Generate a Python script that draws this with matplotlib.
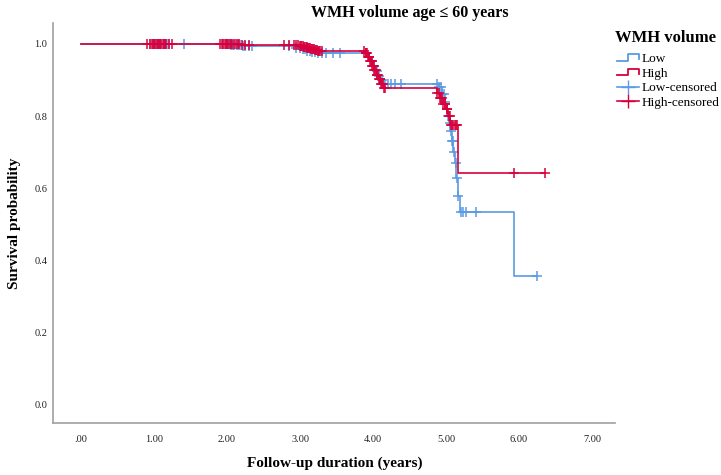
"""Kaplan-Meier curves: WMH volume, age <= 60 years."""
import matplotlib
matplotlib.use('Agg')
import matplotlib.pyplot as plt
import numpy as np
from matplotlib.lines import Line2D
from matplotlib.legend_handler import HandlerBase

plt.rcParams['font.family'] = ['Liberation Serif', 'DejaVu Serif']

LOW_COLOR = '#5A9BE3'
HIGH_COLOR = '#D8003C'

# Step curves: event time (years) and survival after the step
low_times = [0.0, 2.05, 2.20, 2.95, 3.02, 3.08, 3.15, 3.22, 3.92, 3.96, 4.00, 4.03,
             4.06, 4.10, 4.15, 4.90, 4.95, 4.98, 5.00, 5.02, 5.04, 5.06, 5.08, 5.10,
             5.12, 5.14, 5.16, 5.19, 5.93]
low_surv = [1.0, 0.996, 0.993, 0.990, 0.985, 0.981, 0.977, 0.974, 0.965, 0.952, 0.938, 0.925,
            0.912, 0.900, 0.889, 0.880, 0.860, 0.840, 0.820, 0.800, 0.780, 0.760, 0.730, 0.700,
            0.670, 0.630, 0.580, 0.535, 0.357]
low_end = 6.25
low_censored = [0.95, 1.00, 1.03, 1.05, 1.08, 1.10, 1.13, 1.15, 1.18, 1.20, 1.41,
                1.95, 2.00, 2.03, 2.05, 2.08, 2.10, 2.13, 2.15, 2.18, 2.22, 2.25, 2.30, 2.34,
                2.85, 2.95, 3.00, 3.04, 3.07, 3.10, 3.13, 3.17, 3.20, 3.25, 3.30, 3.35, 3.45,
                3.55, 3.90, 3.95, 3.98, 4.01, 4.05, 4.08, 4.12, 4.16, 4.20, 4.25, 4.30, 4.38,
                4.88, 4.90, 4.93, 4.95, 4.97, 4.99, 5.01, 5.03, 5.05, 5.07, 5.08, 5.09, 5.11,
                5.13, 5.15, 5.17, 5.20, 5.23, 5.28, 5.41, 6.25]

high_times = [0.0, 2.20, 3.00, 3.05, 3.10, 3.15, 3.20, 3.25, 3.90, 3.93, 3.96, 3.99, 4.02,
              4.05, 4.08, 4.11, 4.14, 4.88, 4.92, 4.96, 5.00, 5.03, 5.06, 5.16]
high_surv = [1.0, 0.998, 0.995, 0.992, 0.989, 0.986, 0.983, 0.980, 0.975, 0.965, 0.952, 0.940,
             0.928, 0.915, 0.902, 0.890, 0.878, 0.865, 0.850, 0.835, 0.820, 0.800, 0.776, 0.643]
high_end = 6.36
high_censored = [0.90, 0.95, 0.97, 0.98, 1.00, 1.02, 1.04, 1.05, 1.07, 1.08, 1.10, 1.12, 1.14,
                 1.15, 1.17, 1.20, 1.25, 1.90, 1.93, 1.95, 1.97, 1.98, 2.00, 2.02, 2.04, 2.05,
                 2.07, 2.10, 2.12, 2.15, 2.17, 2.20, 2.25, 2.30, 2.78, 2.85, 2.92, 2.95, 2.97,
                 3.00, 3.01, 3.02, 3.04, 3.05, 3.06, 3.08, 3.09, 3.10, 3.11, 3.12, 3.14, 3.15,
                 3.16, 3.18, 3.19, 3.20, 3.22, 3.23, 3.25, 3.26, 3.28, 3.30, 3.88, 3.90, 3.91,
                 3.92, 3.93, 3.94, 3.95, 3.96, 3.97, 3.98, 3.99, 4.00, 4.01, 4.02, 4.03, 4.04,
                 4.05, 4.06, 4.07, 4.08, 4.09, 4.10, 4.11, 4.12, 4.13, 4.15, 4.17, 4.88, 4.90,
                 4.92, 4.93, 4.95, 4.96, 4.98, 4.99, 5.01, 5.02, 5.04, 5.05, 5.07, 5.08, 5.10,
                 5.12, 5.14, 5.15, 5.93, 6.36]

x_ticks = [0, 1, 2, 3, 4, 5, 6, 7]
x_tick_labels = ['.00', '1.00', '2.00', '3.00', '4.00', '5.00', '6.00', '7.00']
y_ticks = [0.0, 0.2, 0.4, 0.6, 0.8, 1.0]


def step_value(times, surv, t):
    idx = np.searchsorted(times, t, side='right') - 1
    return np.asarray(surv)[idx]


class StepHandler(HandlerBase):
    def create_artists(self, legend, orig_handle, xdescent, ydescent,
                       width, height, fontsize, trans):
        c = orig_handle.get_color()
        xs = [0, width * 0.5, width * 0.5, width, width]
        ys = [height * 0.15, height * 0.15, height * 0.85, height * 0.85, height * 0.35]
        return [Line2D(xs, ys, color=c, lw=1.3, transform=trans)]


fig = plt.figure(figsize=(7.21, 4.75), dpi=100)
ax = fig.add_axes([53 / 721, 52 / 475, 562 / 721, 400 / 475])

for times, surv, end, cens, color in [
        (low_times, low_surv, low_end, low_censored, LOW_COLOR),
        (high_times, high_surv, high_end, high_censored, HIGH_COLOR)]:
    ax.step(list(times) + [end], list(surv) + [surv[-1]], where='post',
            color=color, lw=1.2)
    ax.plot(cens, step_value(times, surv, cens), ls='none', marker='+',
            ms=7, mew=1.1, color=color)

ax.set_xlim(-0.384, 7.315)
ax.set_ylim(-0.05, 1.058)
ax.set_xticks(x_ticks)
ax.set_xticklabels(x_tick_labels)
ax.set_yticks(y_ticks)
ax.set_yticklabels([f'{v:.1f}' for v in y_ticks])
ax.tick_params(length=0, labelsize=7.5, colors='#222222')
ax.tick_params(axis='x', pad=9)
ax.tick_params(axis='y', pad=4)
for s in ['top', 'right']:
    ax.spines[s].set_visible(False)
for s in ['left', 'bottom']:
    ax.spines[s].set_color('#a0a0a0')
    ax.spines[s].set_linewidth(1.2)

fig.text(335 / 721, 1 - 463 / 475, 'Follow-up duration (years)', ha='center', va='center',
         fontsize=11, fontweight='bold')
fig.text(15 / 721, 1 - 223 / 475, 'Survival probability', ha='center', va='center',
         rotation=90, fontsize=11, fontweight='bold')
fig.text(410 / 721, 1 - 13 / 475, 'WMH volume age ≤ 60 years', ha='center', va='center',
         fontsize=11.5, fontweight='bold')
fig.text(615 / 721, 1 - 38 / 475, 'WMH volume', ha='left', va='center',
         fontsize=12, fontweight='bold')

handles = [Line2D([], [], color=LOW_COLOR), Line2D([], [], color=HIGH_COLOR),
           Line2D([], [], color=LOW_COLOR, marker='+', ms=10, lw=1.2),
           Line2D([], [], color=HIGH_COLOR, marker='+', ms=10, lw=1.2)]
leg = fig.legend(handles, ['Low', 'High', 'Low-censored', 'High-censored'],
                 handler_map={handles[0]: StepHandler(), handles[1]: StepHandler()},
                 loc='upper left', bbox_to_anchor=(617 / 721, 1 - 53 / 475),
                 frameon=False, fontsize=9.5,
                 handlelength=1.7, handletextpad=0.2, labelspacing=0.18,
                 borderaxespad=0, borderpad=0)

fig.savefig('out.png', dpi=100, facecolor='white')
